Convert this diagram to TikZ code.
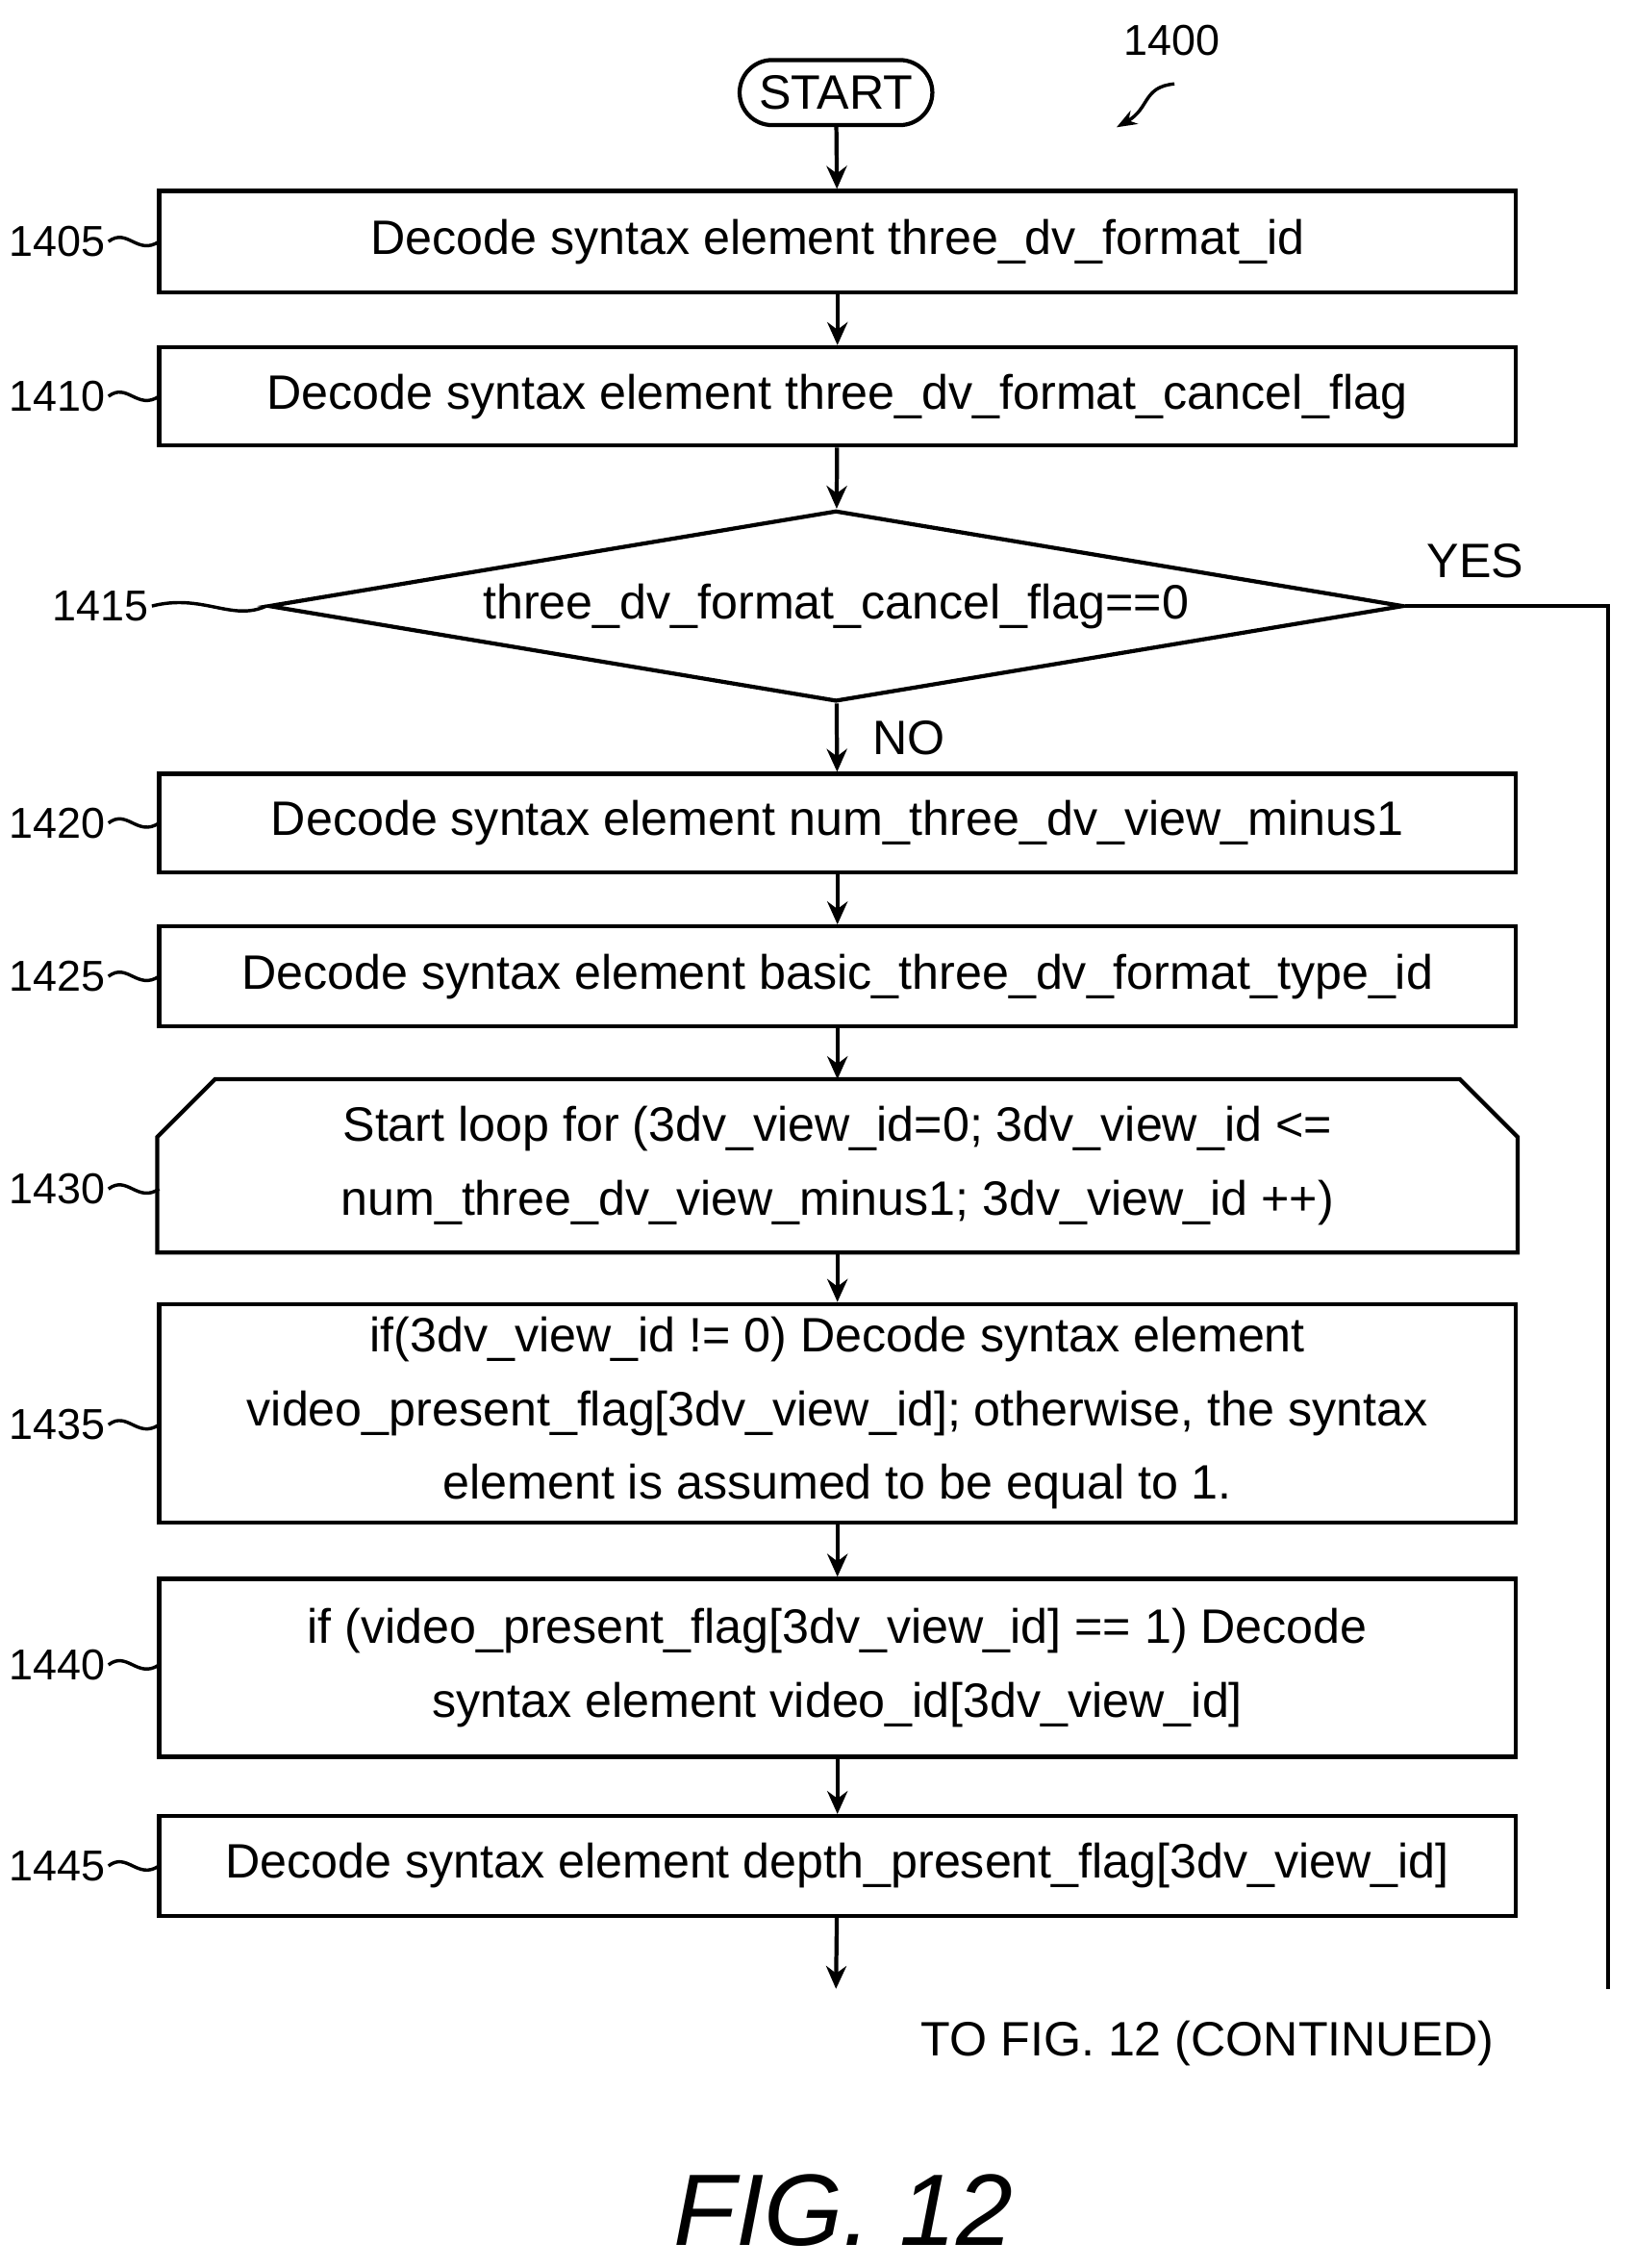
\documentclass[tikz,border=0pt]{standalone}
\usepackage{fontspec}
\setmainfont{Liberation Sans}
\usetikzlibrary{arrows.meta,shapes.geometric,shapes.misc}

\tikzset{
  stepbox/.style={draw,line width=1.6pt,minimum width=18.76cm,inner sep=2pt,
    align=center,font=\fontsize{19}{29}\selectfont},
  lbl/.style={font=\fontsize{17}{20}\selectfont,inner sep=1pt},
  flow/.style={-{Stealth[length=9pt,width=8pt]},line width=1.6pt},
  wig/.style={line width=1.3pt}
}
\newcommand{\us}{\_}

\begin{document}
\begin{tikzpicture}[x=0.02cm,y=-0.02cm]
  \useasboundingbox (0,0) rectangle (1130,1568);

  \node[draw,rounded rectangle,line width=1.6pt,minimum width=2.9cm,minimum height=0.9cm,
        font=\fontsize{19}{22}\selectfont] (start) at (578,64) {START};
  \node[lbl] (fig) at (810,28) {1400};
  \draw[wig,-{Stealth[length=8pt]}] (812,58) .. controls (790,60) and (795,75) .. (772,88);

  \node[stepbox,minimum height=1.4cm] (s1405) at (579,167) {Decode syntax element three\us dv\us format\us id};
  \node[stepbox,minimum height=1.36cm] (s1410) at (579,274) {Decode syntax element three\us dv\us format\us cancel\us flag};
  \node[draw,diamond,line width=1.6pt,minimum width=15.7cm,minimum height=2.64cm,aspect=5.95,inner sep=0pt,
        font=\fontsize{19}{22}\selectfont] (s1415) at (578,419) {three\us dv\us format\us cancel\us flag==0};
  \node[stepbox,minimum height=1.36cm] (s1420) at (579,569) {Decode syntax element num\us three\us dv\us view\us minus1};
  \node[stepbox,minimum height=1.38cm] (s1425) at (579,675) {Decode syntax element basic\us three\us dv\us format\us type\us id};
  \node[stepbox,draw=none,minimum height=2.34cm] (s1430) at (579,806)
        {Start loop for (3dv\us view\us id=0; 3dv\us view\us id <=\\ num\us three\us dv\us view\us minus1; 3dv\us view\us id ++)};
  \draw[line width=1.6pt] (s1430.south west) -- ([yshift=-0.8cm]s1430.north west)
    -- ([xshift=0.8cm]s1430.north west) -- ([xshift=-0.8cm]s1430.north east)
    -- ([yshift=-0.8cm]s1430.north east) -- (s1430.south east) -- cycle;
  \node[stepbox,minimum height=3.02cm] (s1435) at (579,977)
        {if(3dv\us view\us id != 0) Decode syntax element\\ video\us present\us flag[3dv\us view\us id]; otherwise, the syntax\\ element is assumed to be equal to 1.};
  \node[stepbox,minimum height=2.46cm] (s1440) at (579,1153)
        {if (video\us present\us flag[3dv\us view\us id] == 1) Decode\\ syntax element video\us id[3dv\us view\us id]};
  \node[stepbox,minimum height=1.38cm] (s1445) at (579,1290) {Decode syntax element depth\us present\us flag[3dv\us view\us id]};

  \coordinate (endl) at (578,1375);
  \coordinate (yesc) at (1112,419);
  \coordinate (yese) at (1112,1375);

  \draw[flow] (start) -- (s1405);
  \draw[flow] (s1405) -- (s1410);
  \draw[flow] (s1410) -- (s1415);
  \draw[flow] (s1415) -- node[right=10pt,font=\fontsize{19}{22}\selectfont] {NO} (s1420);
  \draw[flow] (s1420) -- (s1425);
  \draw[flow] (s1425) -- (s1430);
  \draw[flow] (s1430) -- (s1435);
  \draw[flow] (s1435) -- (s1440);
  \draw[flow] (s1440) -- (s1445);
  \draw[flow] (s1445) -- (endl);
  \draw[line width=1.6pt] (s1415.east) -- (yesc) -- (yese);
  \node[font=\fontsize{19}{22}\selectfont] (yes) at (1020,388) {YES};

  \node[font=\fontsize{19}{22}\selectfont] (cont) at (835,1413) {TO FIG. 12 (CONTINUED)};
  \node[font=\fontsize{40}{44}\selectfont\itshape] (title) at (583,1528) {FIG. 12};

  % step labels
  \foreach \n/\yy in {1405/167,1410/274,1420/569,1425/675,1430/822,1435/985,1440/1151,1445/1290}{
    \node[lbl,anchor=east] (l\n) at (75,\yy) {\n};
    \draw[wig] (l\n.east) .. controls (88,\yy-10) and (95,\yy+10) .. (110,\yy);
  }
  \node[lbl,anchor=east] (l1415) at (105,419) {1415};
  \draw[wig] (l1415.east) .. controls (140,410) and (160,430) .. (s1415.west);
\end{tikzpicture}
\end{document}
